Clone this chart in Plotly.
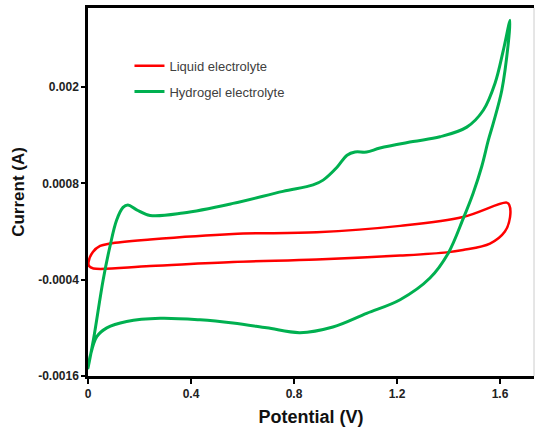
import plotly.graph_objects as go

# Liquid electrolyte CV loop (V, A)
liquid_v = [0.002, 0.019, 0.047, 0.085, 0.241, 0.563, 0.888, 1.212, 1.456, 1.626, 1.636,
            1.639, 1.619, 1.561, 1.456, 1.393, 1.212, 0.888, 0.563, 0.241, 0.021, 0.004, 0.002]
liquid_i = [-0.00018, -0.000055, 0.00002, 0.00005, 0.0001, 0.00017, 0.00019, 0.00027, 0.00038, 0.00056, 0.00053,
            0.00038, 0.0002, 0.00005, -0.00003, -0.00006, -0.0001, -0.00015, -0.00018, -0.00023, -0.00026, -0.00023, -0.00018]

# Hydrogel electrolyte CV loop (V, A)
hydro_v = [0.0, 0.021, 0.059, 0.085, 0.111, 0.136, 0.155, 0.189, 0.241, 0.369, 0.563, 0.757,
           0.874, 0.913, 0.967, 1.006, 1.037, 1.082, 1.134, 1.262, 1.367, 1.471, 1.535,
           1.581, 1.613, 1.639,
           1.632, 1.607, 1.574, 1.555, 1.529, 1.496, 1.457, 1.399, 1.328, 1.212, 1.082, 0.951, 0.823,
           0.694, 0.563, 0.435, 0.28, 0.15, 0.073, 0.034, 0.008, 0.0]
hydro_i = [-0.0015, -0.00115, -0.0004, 0.00001, 0.00034, 0.0005, 0.00053, 0.00047, 0.0004, 0.00043, 0.00055, 0.0007,
           0.00078, 0.00084, 0.001, 0.00115, 0.00119, 0.00119, 0.00124, 0.00132, 0.00138, 0.0015, 0.00171,
           0.00205, 0.00246, 0.00283,
           0.00254, 0.00196, 0.00155, 0.00134, 0.00101, 0.00068, 0.00036, -0.00007, -0.00038, -0.00065, -0.00082, -0.00099, -0.00106,
           -0.001, -0.00094, -0.0009, -0.00088, -0.00092, -0.001, -0.00111, -0.00136, -0.0015]

x_ticks = [0, 0.4, 0.8, 1.2, 1.6]
x_ticktext = ["0", "0.4", "0.8", "1.2", "1.6"]
y_ticks = [-0.0016, -0.0004, 0.0008, 0.002]
y_ticktext = ["-0.0016", "-0.0004", "0.0008", "0.002"]

fig = go.Figure()
fig.add_trace(go.Scatter(x=liquid_v, y=liquid_i, mode="lines", name="Liquid electrolyte",
                         line=dict(color="#FF0000", width=2.5, shape="spline", smoothing=1),
                         legendgroup="a"))
fig.add_trace(go.Scatter(x=hydro_v, y=hydro_i, mode="lines", name="Hydrogel electrolyte",
                         line=dict(color="#00B050", width=3, shape="spline", smoothing=1),
                         legendgroup="b"))

fig.update_layout(
    width=535, height=427,
    margin=dict(l=88, r=1, t=8, b=51),
    paper_bgcolor="white", plot_bgcolor="white",
    font=dict(family="Liberation Sans, Arial, sans-serif", color="#222222"),
    showlegend=True,
    legend=dict(x=0.093, y=0.884, xanchor="left", yanchor="top",
                bgcolor="rgba(0,0,0,0)", font=dict(size=13, color="#404040"),
                tracegroupgap=6),
)
fig.update_xaxes(
    range=[0, 1.732], tickvals=x_ticks, ticktext=x_ticktext,
    showgrid=False, zeroline=False,
    showline=True, linecolor="black", linewidth=2.5, mirror=True,
    ticks="outside", ticklen=5, tickwidth=2, tickcolor="black",
    tickfont=dict(size=12, color="#222222", weight="bold"),
    title=dict(text="Potential (V)", font=dict(size=18, color="#111111", weight="bold"), standoff=11),
)
fig.update_yaxes(
    range=[-0.0016, 0.002984], tickvals=y_ticks, ticktext=y_ticktext,
    showgrid=False, zeroline=False,
    showline=True, linecolor="black", linewidth=2.5, mirror=False,
    ticks="outside", ticklen=4, tickwidth=2, tickcolor="black",
    tickfont=dict(size=12, color="#222222", weight="bold"),
    title=dict(text="Current (A)", font=dict(size=17, color="#111111", weight="bold"), standoff=10),
)
fig.add_shape(type="line", xref="paper", yref="paper", x0=1, x1=1, y0=0, y1=1,
              line=dict(color="#cccccc", width=1))

fig.write_html("out.html")
